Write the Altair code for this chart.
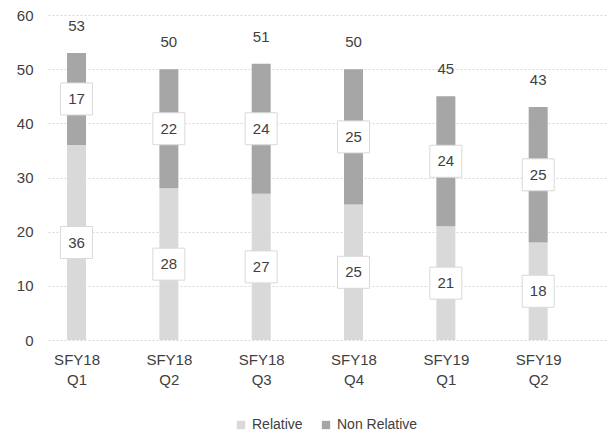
import json
import altair as alt
import pandas as pd

quarters = ["SFY18 Q1", "SFY18 Q2", "SFY18 Q3", "SFY18 Q4", "SFY19 Q1", "SFY19 Q2"]
relative = [36, 28, 27, 25, 21, 18]
non_relative = [17, 22, 24, 25, 24, 25]
series = ["Relative", "Non Relative"]
colors = ["#d9d9d9", "#a6a6a6"]
y_ticks = [0, 10, 20, 30, 40, 50, 60]

FONT = "Liberation Sans"
TXT = "#404040"

rows = []
for i, q in enumerate(quarters):
    r, n = relative[i], non_relative[i]
    rows.append(dict(idx=i, quarter=q, series=series[0], value=r, start=0, end=r))
    rows.append(dict(idx=i, quarter=q, series=series[1], value=n, start=r, end=r + n))
df = pd.DataFrame(rows)
df["mid"] = (df["start"] + df["end"]) / 2
tot = pd.DataFrame(dict(idx=list(range(len(quarters))),
                        total=[r + n for r, n in zip(relative, non_relative)]))

label_expr = "split(" + json.dumps(quarters) + "[datum.value], ' ')"

xscale = alt.Scale(domain=[-0.255, 5.702], nice=False, zero=False)
yscale = alt.Scale(domain=[0, 60], nice=False)

x_enc = alt.X("idx:Q", scale=xscale,
              axis=alt.Axis(values=list(range(len(quarters))), labelExpr=label_expr,
                            ticks=False, domain=False, grid=False, title=None,
                            labelFontSize=15, labelLineHeight=20, labelPadding=12,
                            labelColor=TXT, labelFont=FONT, labelBaseline="top"))
y_enc = alt.Y("start:Q", scale=yscale,
              axis=alt.Axis(values=y_ticks, grid=True, gridColor="#d9d9d9",
                            gridDash=[2, 2], domain=False, ticks=False, title=None,
                            labelPadding=15, labelFontSize=15, labelColor=TXT,
                            labelFont=FONT))

bars = alt.Chart(df).mark_bar(size=19).encode(
    x=x_enc,
    y=y_enc,
    y2="end:Q",
    color=alt.Color("series:N", scale=alt.Scale(domain=series, range=colors),
                    legend=alt.Legend(orient="none", legendX=186, legendY=403,
                                      direction="horizontal", title=None,
                                      symbolType="square", symbolSize=70,
                                      symbolStrokeWidth=0, labelFontSize=14,
                                      labelColor=TXT, labelFont=FONT,
                                      columnPadding=16, padding=0)),
)

boxes = alt.Chart(df).mark_point(shape="square", size=1024, filled=True,
                                 fill="white", stroke="#d9d9d9", strokeWidth=1,
                                 opacity=1).encode(
    x=alt.X("idx:Q", scale=xscale),
    y=alt.Y("mid:Q", scale=yscale),
)

seg_text = alt.Chart(df).mark_text(fontSize=15, color=TXT, font=FONT).encode(
    x=alt.X("idx:Q", scale=xscale),
    y=alt.Y("mid:Q", scale=yscale),
    text="value:Q",
)

tot_text = alt.Chart(tot).mark_text(fontSize=15, color=TXT, font=FONT, dy=-27).encode(
    x=alt.X("idx:Q", scale=xscale),
    y=alt.Y("total:Q", scale=yscale),
    text="total:Q",
)

chart = alt.layer(bars, boxes, seg_text, tot_text).properties(
    width=560, height=325,
    autosize=alt.AutoSizeParams(type="none"),
    padding={"left": 40, "top": 7, "right": 0, "bottom": 95},
).configure_view(stroke=None)

chart.save("out.html", embed_options={"renderer": "svg", "actions": False})
